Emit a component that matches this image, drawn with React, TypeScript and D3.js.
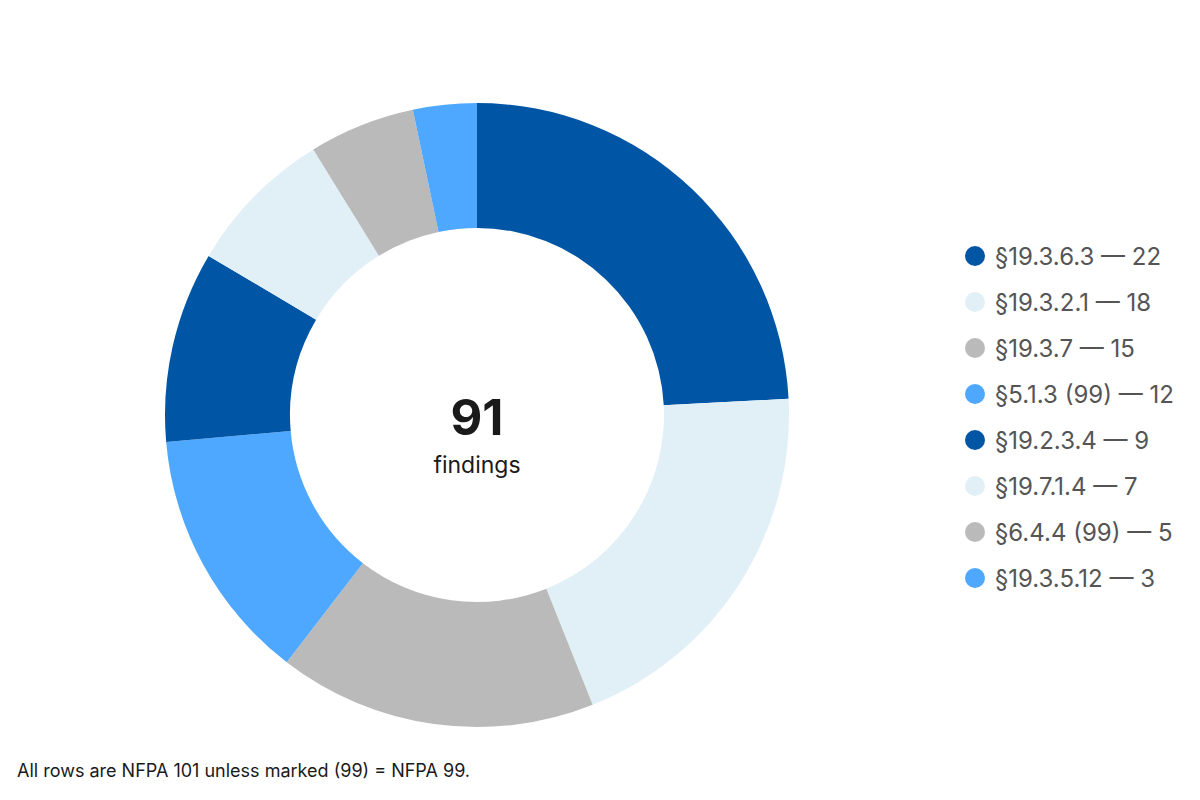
import React from 'react';
import * as d3 from 'd3';

const codes = ['§19.3.6.3', '§19.3.2.1', '§19.3.7', '§5.1.3 (99)', '§19.2.3.4', '§19.7.1.4', '§6.4.4 (99)', '§19.3.5.12'];
const counts = [22, 18, 15, 12, 9, 7, 5, 3];
const palette = ['#0056a4', '#e1eff7', '#bababa', '#4fa8ff'];
const footnote = 'All rows are NFPA 101 unless marked (99) = NFPA 99.';

const FONT = 'Inter, "Noto Sans", sans-serif';

export default function App() {
    const width = 1200;
    const height = 800;
    const cx = 477;
    const cy = 415;
    const outer = 312;
    const inner = 187;

    const rows = codes.map((c, i) => ({code: c, n: counts[i], i}));
    const pie = d3.pie<any>().sort(null).value((d: any) => d.n);
    const arcs = pie(rows);
    const arcGen = d3.arc<any>().innerRadius(inner).outerRadius(outer);
    const color = (i: number) => palette[i % palette.length];
    const total = d3.sum(counts);

    // legend rows
    const legendY = d3.scalePoint<number>()
        .domain(rows.map(r => r.i))
        .range([256, 256 + 46 * (rows.length - 1)]);

    return (
        <svg width={width} height={height} style={{position: 'absolute', left: 0, top: 0}}>
            <rect width={width} height={height} fill="#fff"/>
            <g transform={`translate(${cx},${cy})`}>
                {arcs.map((a: any) => (
                    <path key={a.data.code} d={arcGen(a) as string} fill={color(a.data.i)}/>
                ))}
                <text y={20} textAnchor="middle" fontFamily={FONT} fontWeight={700} fontSize={49} fill="#1a1a1a">{total}</text>
                <text y={58} textAnchor="middle" fontFamily={FONT} fontSize={23} fill="#1a1a1a">findings</text>
            </g>
            <g>
                {rows.map(r => (
                    <g key={r.code} transform={`translate(975,${legendY(r.i)})`}>
                        <circle r={10} fill={color(r.i)}/>
                        <text x={20} dy="0.36em" fontFamily={FONT} fontSize={24} fill="#555">{`${r.code} — ${r.n}`}</text>
                    </g>
                ))}
            </g>
            <text x={17} y={777} fontFamily={FONT} fontSize={18} fill="#1a1a1a">{footnote}</text>
        </svg>
    );
}
